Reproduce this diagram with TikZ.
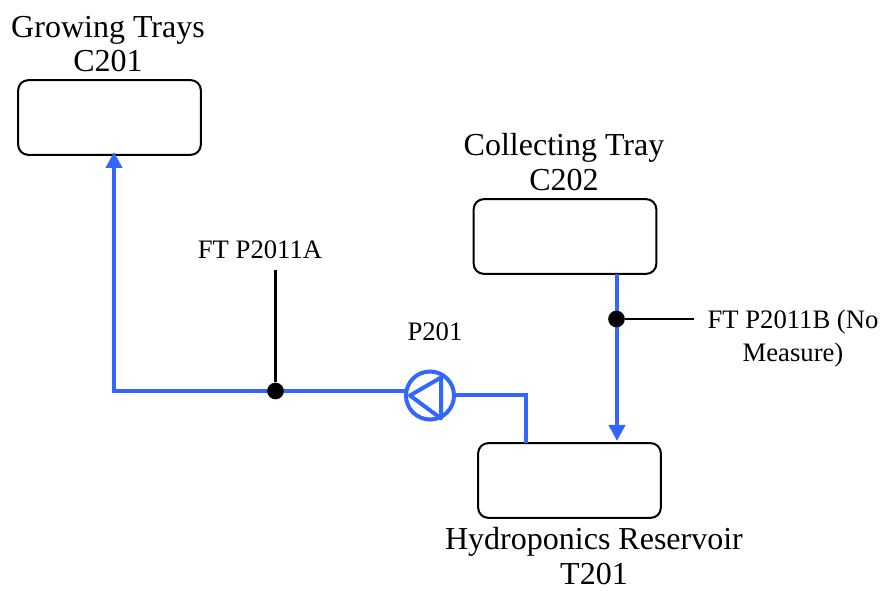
\documentclass[tikz,border=0pt]{standalone}
\usepackage{fontspec}
\setmainfont{Liberation Serif}
\usetikzlibrary{arrows.meta}
\definecolor{pipeblue}{RGB}{51,102,255}
\tikzset{
  vessel/.style={draw=black,line width=1.5pt,rounded corners=7.5pt,minimum width=137pt,minimum height=56pt,inner sep=0pt},
  pipe/.style={draw=pipeblue,line width=3pt},
  flowpipe/.style={pipe,-{Triangle[length=12pt,width=12pt,fill=pipeblue]}},
  pumpbody/.style={draw=pipeblue,line width=3pt,circle,minimum size=36pt,inner sep=0pt},
  probe/.style={circle,fill=black,minimum size=12.5pt,inner sep=0pt},
  signal/.style={draw=black,line width=1.8pt},
  biglabel/.style={font=\fontsize{24}{26}\selectfont,align=center,inner sep=0pt},
  smalllabel/.style={font=\fontsize{20}{24.75}\selectfont,align=center,inner sep=0pt}
}
\begin{document}
\begin{tikzpicture}[x=0.75pt,y=-0.75pt]
\useasboundingbox (0,0) rectangle (883,591);
% vessels
\node[vessel] (c201) at (109.5,117.5) {};
\node[vessel] (c202) at (565,236.5) {};
\node[vessel] (t201) at (569.5,480.5) {};
% labels
\node[biglabel] (c201l) at (108,44) {Growing Trays\\C201};
\node[biglabel] (c202l) at (564,162) {Collecting Tray\\C202};
\node[biglabel] (t201l) at (594,556) {Hydroponics Reservoir\\T201};
\node[smalllabel] (p201l) at (435,332) {P201};
\node[smalllabel] (fta) at (260,250) {FT P2011A};
\node[smalllabel] (ftb) at (793,339) {FT P2011B (No\\Measure)};
% pump
\node[pumpbody] (pump) at (430,395.5) {};
\draw[pipe,line join=round] (pump.center) ++(-20,0) coordinate (ptip) -- ++(31,-18) coordinate (ptop) -- ++(0,41) coordinate (pbot) -- cycle;
% pipes
\coordinate (corner) at (114,391);
\coordinate (corner2) at (526,395);
\coordinate (c201in) at (114,152);
\coordinate (pumpw) at (405,391);
\coordinate (pumpe) at (454,395);
\coordinate (t201out) at (526,443);
\coordinate (c202out) at (617,274);
\coordinate (t201in) at (617,441);
\draw[flowpipe] (pumpw) -- (corner) -- (c201in);
\draw[pipe] (pumpe) -- (corner2) -- (t201out);
\draw[flowpipe] (c202out) -- (t201in);
% instruments
\node[probe] (pa) at (275.5,391) {};
\node[probe] (pb) at (616.5,319) {};
\coordinate (paend) at (275.5,270);
\coordinate (pbend) at (694,319);
\draw[signal] (pa) -- (paend);
\draw[signal] (pb) -- (pbend);
\end{tikzpicture}
\end{document}
